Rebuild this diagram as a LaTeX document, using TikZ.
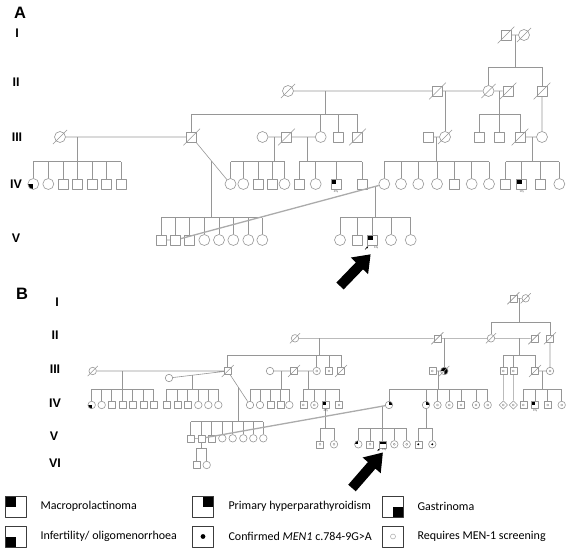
\documentclass[tikz,border=0pt]{standalone}
\usepackage{fontspec}
\setmainfont{Carlito}
\newfontfamily\hvfont{Liberation Sans}
\usetikzlibrary{shapes.geometric,arrows.meta}
\definecolor{pedgray}{RGB}{150,150,150}
\definecolor{boxgray}{RGB}{60,60,60}
% sibship: #1 = height coordinate, #2 = children
\newcommand\sibs[2]{%
  \foreach \k [count=\i, remember=\k as \p (initially none)] in {#2}{%
    \draw[pl] (\k.north) -- (\k |- #1);
    \ifnum\i>1 \draw[pl] (\p |- #1) -- (\k |- #1);\fi}}
% deceased: #1 = overhang, #2 = symbols
\newcommand\dd[2]{%
  \foreach \n in {#2}{%
    \draw[pl] ([shift={(-#1,-#1)}]\n.south west) -- ([shift={(#1,#1)}]\n.north east);}}
\begin{document}
\begin{tikzpicture}[x=1pt,y=-1pt,line join=round,
  pl/.style={draw=pedgray,line width=0.6pt},
  gl/.style={draw=pedgray!80,line width=1.3pt},
  sym/.style={draw=pedgray,line width=0.6pt,fill=white,inner sep=0pt},
  sA/.style={sym,rectangle,minimum size=10pt},
  cA/.style={sym,circle,minimum size=11pt},
  sB/.style={sym,rectangle,minimum size=7pt},
  cB/.style={sym,circle,minimum size=7.5pt},
  dmB/.style={sym,diamond,minimum size=8.5pt},
  lbox/.style={sym,draw=boxgray,line width=0.7pt,rectangle,minimum size=21pt},
  mac/.style={path picture={\fill[black] (path picture bounding box.center) rectangle (path picture bounding box.north west);}},
  hpt/.style={path picture={\fill[black] (path picture bounding box.center) rectangle (path picture bounding box.north east);}},
  gas/.style={path picture={\fill[black] (path picture bounding box.center) rectangle (path picture bounding box.south east);}},
  inf/.style={path picture={\fill[black] (path picture bounding box.center) rectangle (path picture bounding box.south west);}},
  tophalf/.style={path picture={\fill[black] (path picture bounding box.west) rectangle (path picture bounding box.north east);}},
  heavy/.style={path picture={\fill[black] (path picture bounding box.west) rectangle (path picture bounding box.north east)
      (path picture bounding box.center) rectangle (path picture bounding box.south east);}},
  scr/.style={path picture={\draw[pedgray,line width=0.4pt] (path picture bounding box.center) circle (#1);}},
  scr/.default=1.1pt,
  conf/.style={path picture={\fill[black] (path picture bounding box.center) circle (#1);}},
  conf/.default=1.1pt,
  panel/.style={font=\hvfont\bfseries\fontsize{16.5}{17}\selectfont},
  gen/.style={font=\hvfont\bfseries\fontsize{12.5}{13}\selectfont},
  leg/.style={anchor=west,font=\fontsize{12}{13}\selectfont},
  tiny/.style={font=\fontsize{3}{3}\selectfont,text=black!70,inner sep=0pt},
  mk/.style={-{Latex[length=2pt,width=2pt]},line width=0.5pt}]
\useasboundingbox (0,0) rectangle (567,548);

% ---------------- A ----------------
\node[panel] (pA) at (20,13) {A};
\path (17,33) node[gen] (gA1) {I} (16,82) node[gen] (gA2) {II} (17,137) node[gen] (gA3) {III}
  (16,184) node[gen] (gA4) {IV} (16,238) node[gen] (gA5) {V};
% generation I, II
\path (506,35) node[sA] (A1m) {} (524,35) node[cA] (A1f) {};
\path (288,91) node[cA] (A2a) {} (437.5,91) node[sA] (A2b) {} (488.5,91) node[cA] (A2c) {}
  (508,91) node[sA] (A2d) {} (542,91) node[sA] (A2e) {};
% generation III
\path (60,137) node[cA] (A3a) {} (191.7,137) node[sA] (A3b) {} (262.5,137) node[cA] (A3c) {}
  (286.5,137) node[sA] (A3d) {} (320.7,137) node[cA] (A3e) {} (338,137) node[sA] (A3f) {}
  (357.5,137) node[sA] (A3g) {} (428,137) node[sA] (A3h) {} (445,137) node[cA] (A3i) {}
  (479,137) node[sA] (A3j) {} (499.5,137) node[sA] (A3k) {} (520,137) node[sA] (A3l) {}
  (542,137) node[cA] (A3m) {};
% generation IV
\path (33.3,184) node[cA,inf] (A4a1) {} (48.3,184) node[cA] (A4a2) {} (63.3,184) node[sA] (A4a3) {}
  (77.7,184) node[sA] (A4a4) {} (92.3,184) node[sA] (A4a5) {} (106.7,184) node[sA] (A4a6) {}
  (121,184) node[sA] (A4a7) {};
\path (230.5,184) node[cA] (A4b1) {} (243.3,184) node[cA] (A4b2) {} (258.3,184) node[sA] (A4b3) {}
  (272.3,184) node[sA] (A4b4) {} (284.5,184) node[cA] (A4b5) {};
\path (299,184) node[sA] (A4c1) {} (315.7,184) node[cA] (A4c2) {} (336,184) node[sA,mac] (A4c3) {}
  (362,184) node[sA] (A4c4) {};
\path (384.3,184) node[cA] (A4d1) {} (401,184) node[cA] (A4d2) {} (418.3,184) node[cA] (A4d3) {}
  (437,184) node[cA] (A4d4) {} (454.3,184) node[sA] (A4d5) {} (471.7,184) node[cA] (A4d6) {}
  (489,184) node[cA] (A4d7) {};
\path (505.7,184) node[sA] (A4e1) {} (521.7,184) node[sA,mac] (A4e2) {} (540,184) node[sA] (A4e3) {}
  (559.3,184) node[cA] (A4e4) {};
% generation V
\path (161,240) node[sA] (A5a1) {} (175.7,240) node[sA] (A5a2) {} (189.3,240) node[sA] (A5a3) {}
  (204.3,240) node[cA] (A5a4) {} (219,240) node[cA] (A5a5) {} (233.3,240) node[cA] (A5a6) {}
  (248.3,240) node[cA] (A5a7) {} (262.3,240) node[cA] (A5a8) {};
\path (340,240) node[cA] (A5b1) {} (357.7,240) node[sA] (A5b2) {} (372.7,240) node[sA,mac] (A5b3) {}
  (391,240) node[cA] (A5b4) {} (410.7,240) node[cA] (A5b5) {};
\dd{3pt}{A1m,A1f,A2a,A2b,A2c,A2d,A2e,A3a,A3b,A3d,A3g,A3i,A3l}
% lines
\path (0,67) coordinate (yA1) (0,114) coordinate (yA2) (0,161.7) coordinate (yA3) (0,217.5) coordinate (yA4);
\path (515,35) coordinate (dA1) (325.7,91) coordinate (dA2) (499,91) coordinate (dA2r)
  (77.7,137) coordinate (dA3a) (274.3,137) coordinate (dA3c) (307,137) coordinate (dA3d)
  (436.5,137) coordinate (dA3h) (532.3,137) coordinate (dA3l) (211.7,161.2) coordinate (dA3x)
  (375.7,186.3) coordinate (dA4d);
\draw[pl] (A1m) -- (A1f) (A2a) -- (A2b) (A2b) -- (A2c) (A2c) -- (A2d) (A2e) -- (A3m)
  (A3a) -- (A3b) (A3c) -- (A3d) (A3d) -- (A3e) (A3h) -- (A3i) (A3l) -- (A3m)
  (A3b) -- (A4b1) (A5a1) -- (A5a2);
\draw[pl] (A3i.north) -- (A3i |- A2b);
\foreach \d/\y in {dA1/yA1,dA2/yA2,dA2r/yA2,dA3a/yA3,dA3c/yA3,dA3d/yA3,dA3h/yA3,dA3l/yA3,dA3x/yA4,dA4d/yA4}
  \draw[pl] (\d) -- (\d |- \y);
\sibs{yA1}{A2c,A2e}
\sibs{yA2}{A3b,A3e,A3f,A3g}
\sibs{yA2}{A3j,A3k,A3l}
\sibs{yA3}{A4a1,A4a2,A4a3,A4a4,A4a5,A4a6,A4a7}
\sibs{yA3}{A4b1,A4b2,A4b3,A4b4,A4b5}
\sibs{yA3}{A4c1,A4c2,A4c3,A4c4}
\sibs{yA3}{A4d1,A4d2,A4d3,A4d4,A4d5,A4d6,A4d7}
\sibs{yA3}{A4e1,A4e2,A4e3,A4e4}
\sibs{yA4}{A5a1,A5a2,A5a3,A5a4,A5a5,A5a6,A5a7,A5a8}
\sibs{yA4}{A5b1,A5b2,A5b3,A5b4,A5b5}
\draw[gl] (A4d1) -- (A5a2);
\node[tiny] (tA1) at (336,191.5) {49y};
\node[tiny] (tA2) at (521.7,191.5) {19y};
\node[tiny] (tA3) at (376,248) {13y};
\draw[mk] (365,249.5) -- (368.3,246.3);
\begin{scope}[shift={(340,286)},rotate=46]
  \fill (0,-5) -- (28,-5) -- (28,-12) -- (44,0) -- (28,12) -- (28,5) -- (0,5) -- cycle;
\end{scope}

% ---------------- B ----------------
\node[panel] (pB) at (22,294) {B};
\path (57,302) node[gen] (gB1) {I} (55,335) node[gen] (gB2) {II} (55,369) node[gen] (gB3) {III}
  (55,403) node[gen] (gB4) {IV} (54,436) node[gen] (gB5) {V} (55,463) node[gen] (gB6) {VI};
% generation I, II
\path (513.3,298.3) node[sB] (B1m) {} (525.7,298.3) node[cB] (B1f) {};
\path (295,338.3) node[cB] (B2a) {} (437.3,338.3) node[sB] (B2b) {} (491,338.3) node[cB] (B2c) {}
  (534.3,338.3) node[sB] (B2d) {} (550,338.3) node[sB] (B2e) {};
% generation III
\path (92.7,371) node[cB] (B3a) {} (227.7,371) node[sB] (B3b) {} (169,378) node[cB] (B3n) {}
  (270,371) node[cB] (B3c) {} (294,371) node[sB] (B3d) {} (316.7,371) node[cB,scr] (B3e) {}
  (329,371) node[sB,scr] (B3f) {} (341,371) node[sB] (B3g) {} (432.3,371) node[sB,scr] (B3h) {}
  (444.3,371) node[cB,heavy] (B3i) {} (503.3,371) node[sB,scr] (B3j) {} (513.3,371) node[sB,scr] (B3k) {}
  (535,371) node[sB] (B3l) {} (550,371) node[cB,scr] (B3m) {};
% generation IV
\path (91.7,405) node[cB,inf] (B4a1) {} (101.7,405) node[cB] (B4a2) {} (111.7,405) node[sB] (B4a3) {}
  (122.3,405) node[sB] (B4a4) {} (132.7,405) node[sB] (B4a5) {} (143.3,405) node[sB] (B4a6) {}
  (153.3,405) node[sB] (B4a7) {};
\path (166.7,405) node[sB] (B4b1) {} (177.3,405) node[sB] (B4b2) {} (187.7,405) node[sB] (B4b3) {}
  (198.3,405) node[cB] (B4b4) {} (208.3,405) node[cB] (B4b5) {} (218.3,405) node[cB] (B4b6) {};
\path (250,405) node[cB] (B4c1) {} (260,405) node[cB] (B4c2) {} (270.7,405) node[sB] (B4c3) {}
  (280.7,405) node[sB] (B4c4) {} (289.3,405) node[cB] (B4c5) {};
\path (303.3,405) node[sB,scr] (B4d1) {} (314.3,405) node[cB,scr] (B4d2) {} (325.7,405) node[sB,mac] (B4d3) {}
  (339,405) node[sB,scr] (B4d4) {};
\path (389,405) node[cB,hpt] (B4e1) {} (426,405) node[cB,hpt] (B4e2) {} (437.5,405) node[cB,scr] (B4e3) {}
  (449.3,405) node[cB,scr] (B4e4) {} (461,405) node[sB,scr] (B4e5) {} (476,405) node[cB,scr] (B4e6) {}
  (487.7,405) node[cB,scr] (B4e7) {};
\path (503.3,405) node[dmB,scr] (B4g1) {} (513.3,405) node[dmB,scr] (B4g2) {};
\path (523.3,405) node[sB,scr] (B4f1) {} (535,405) node[sB,mac] (B4f2) {} (547.7,405) node[sB,scr] (B4f3) {}
  (561.7,405) node[cB,scr] (B4f4) {};
% generation V, VI
\path (190.7,438.3) node[sB] (B5a1) {} (201.7,438.3) node[sB] (B5a2) {} (211.7,438.3) node[sB] (B5a3) {}
  (222.3,438.3) node[cB] (B5a4) {} (232.7,438.3) node[cB] (B5a5) {} (243.3,438.3) node[cB] (B5a6) {}
  (253.3,438.3) node[cB] (B5a7) {} (263.3,438.3) node[cB] (B5a8) {};
\path (320,444.3) node[sB,scr] (B5b1) {} (334,444.3) node[cB,scr] (B5b2) {};
\path (358.3,444.3) node[cB,mac] (B5c1) {} (370,444.3) node[sB,scr] (B5c2) {} (382.3,444.3) node[sB,tophalf] (B5c3) {}
  (394.3,444.3) node[cB,scr] (B5c4) {} (406.7,444.3) node[cB,scr] (B5c5) {};
\path (418.3,444.3) node[sB,conf] (B5d1) {} (432.3,444.3) node[cB,conf] (B5d2) {};
\path (196.7,465) node[sB] (B6a) {} (206.7,465) node[cB] (B6b) {};
\dd{2.2pt}{B1m,B1f,B2a,B2b,B2c,B2d,B2e,B3a,B3b,B3d,B3g,B3i,B3l}
% lines
\path (0,322.3) coordinate (yB1) (0,355) coordinate (yB2) (0,389) coordinate (yB3)
  (0,421.7) coordinate (yB4) (0,428.3) coordinate (yB4b) (0,448.3) coordinate (yB5);
\path (519.5,298.3) coordinate (dB1) (319.3,338.3) coordinate (dB2) (519.5,338.3) coordinate (dB2r)
  (122.3,371) coordinate (dB3a) (192.5,375.2) coordinate (dB3n) (281.7,371) coordinate (dB3c)
  (308.3,371) coordinate (dB3d) (438.3,371) coordinate (dB3h) (542.3,371) coordinate (dB3l)
  (238.3,387.2) coordinate (dB3x) (382.3,406.2) coordinate (dB4e);
\draw[pl] (B1m) -- (B1f) (B2a) -- (B2b) (B2b) -- (B2c) (B2c) -- (B2d) (B2e) -- (B3m)
  (B3a) -- (B3b) (B3n) -- (B3b) (B3c) -- (B3d) (B3d) -- (B3e) (B3h) -- (B3i) (B3l) -- (B3m)
  (B3b) -- (B4c1) (B3j) -- (B4g1) (B3k) -- (B4g2) (B5a1) -- (B5a2);
\draw[pl] (B3i.north) -- (B3i |- B2b);
\foreach \d/\y in {dB1/yB1,dB2/yB2,dB2r/yB2,dB3a/yB3,dB3n/yB3,dB3c/yB3,dB3d/yB3,dB3h/yB3,dB3l/yB3,dB3x/yB4,dB4e/yB4b}
  \draw[pl] (\d) -- (\d |- \y);
\foreach \d/\y in {B4d3/yB4b,B4e2/yB4b,B5a2/yB5}
  \draw[pl] (\d.south) -- (\d |- \y);
\sibs{yB1}{B2c,B2e}
\sibs{yB2}{B3b,B3e,B3f,B3g}
\sibs{yB2}{B3j,B3k,B3l}
\sibs{yB3}{B4a1,B4a2,B4a3,B4a4,B4a5,B4a6,B4a7}
\sibs{yB3}{B4b1,B4b2,B4b3,B4b4,B4b5,B4b6}
\sibs{yB3}{B4c1,B4c2,B4c3,B4c4,B4c5}
\sibs{yB3}{B4d1,B4d2,B4d3,B4d4}
\sibs{yB3}{B4e1,B4e2,B4e3,B4e4,B4e5,B4e6,B4e7}
\sibs{yB3}{B4f1,B4f2,B4f3,B4f4}
\sibs{yB4}{B5a1,B5a2,B5a3,B5a4,B5a5,B5a6,B5a7,B5a8}
\sibs{yB4b}{B5b1,B5b2}
\sibs{yB4b}{B5c1,B5c2,B5c3,B5c4,B5c5}
\sibs{yB4b}{B5d1,B5d2}
\sibs{yB5}{B6a,B6b}
\draw[gl] (B4e1) -- (B5a2);
\node[tiny] (tB1) at (325.7,410.7) {49y};
\node[tiny] (tB2) at (535,410.7) {19y};
\node[tiny] (tB3) at (384,449.5) {13y};
\draw[mk] (377.5,451) -- (379.8,448.6);
\begin{scope}[shift={(352,488)},rotate=49]
  \fill (0,-5) -- (30,-5) -- (30,-12) -- (47,0) -- (30,12) -- (30,5) -- (0,5) -- cycle;
\end{scope}

% ---------------- legend ----------------
\path (16,506.5) node[lbox,mac] (L1) {} (203,506.5) node[lbox,hpt] (L2) {} (393,506.5) node[lbox,gas] (L3) {}
  (16,536.5) node[lbox,inf] (L4) {} (203,536.5) node[lbox,conf=2.4pt] (L5) {} (393,536.5) node[lbox,scr=2.5pt] (L6) {};
\node[leg] (T1) at (37,506.5) {Macroprolactinoma};
\node[leg] (T2) at (225,506.5) {Primary hyperparathyroidism};
\node[leg] (T3) at (414,506.5) {Gastrinoma};
\node[leg] (T4) at (37,536.5) {Infertility/ oligomenorrhoea};
\node[leg] (T5) at (225,536.5) {Confirmed \textit{MEN1} c.784-9G>A};
\node[leg] (T6) at (414,536.5) {Requires MEN-1 screening};
\end{tikzpicture}
\end{document}
